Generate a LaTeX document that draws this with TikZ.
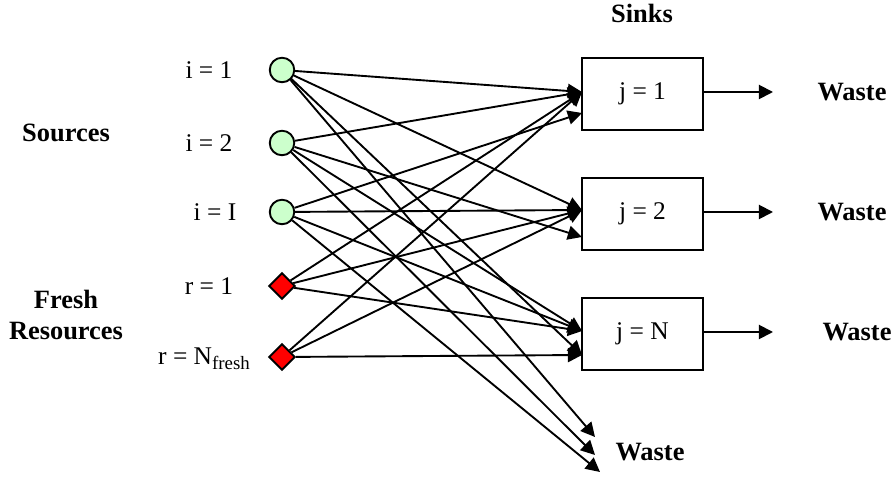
\documentclass[tikz,border=0pt]{standalone}
\usepackage{fontspec}
\setmainfont{Liberation Serif}
\usetikzlibrary{arrows.meta,shapes.geometric}
\tikzset{
  src/.style={circle,draw,line width=1pt,fill=green!20,minimum size=13pt,inner sep=0pt},
  fresh/.style={diamond,draw,line width=1pt,fill=red,minimum size=14pt,inner sep=0pt},
  sink/.style={rectangle,draw,line width=1pt,minimum width=64pt,minimum height=38pt,font=\fontsize{13.5}{15}\selectfont},
  lbl/.style={font=\fontsize{13.5}{15}\selectfont},
  blbl/.style={font=\fontsize{14}{16}\selectfont\bfseries,align=center},
  flow/.style={line width=1pt,-{Triangle[length=7.5pt,width=7.5pt]}},
}
\begin{document}
\begin{tikzpicture}[x=0.53pt,y=-0.53pt]
\useasboundingbox (0,0) rectangle (893,477);
% sources
\node[src] (s1) at (282,70) {};
\node[src] (s2) at (282,143) {};
\node[src] (s3) at (282,212) {};
\node[fresh] (f1) at (282,286) {};
\node[fresh] (f2) at (282,357) {};
% labels
\node[lbl] (l1) at (209,70) {i = 1};
\node[lbl] (l2) at (209,143) {i = 2};
\node[lbl] (l3) at (215,212) {i = I};
\node[lbl] (l4) at (209,286) {r = 1};
\node[lbl] (l5) at (204,359) {r = N\raisebox{-0.4ex}{\fontsize{10}{10}\selectfont fresh}};
\node[blbl] (src) at (66,133) {Sources};
\node[blbl] (frs) at (66,315) {Fresh\\Resources};
\node[blbl] (snk) at (642,13) {Sinks};
% sinks
\node[sink] (b1) at (642.5,94) {j = 1\vphantom{N}};
\node[sink] (b2) at (642.5,214) {j = 2\vphantom{N}};
\node[sink] (b3) at (642.5,334) {j = N};
\node[blbl] (w1) at (852,92) {Waste};
\node[blbl] (w2) at (852,212) {Waste};
\node[blbl] (w3) at (857,332) {Waste};
\node[blbl] (w0) at (650,452) {Waste};
% tip points
\coordinate (t1a) at (582,92);
\coordinate (t1b) at (582,113);
\coordinate (t2a) at (582,210);
\coordinate (t2b) at (582,237);
\coordinate (t3a) at (582,331);
\coordinate (t3b) at (582,355);
\coordinate (wa) at (595,437);
\coordinate (wb) at (595,455);
\coordinate (wc) at (600,472);
\coordinate (e1) at (773,92);
\coordinate (e2) at (773,212);
\coordinate (e3) at (773,332);
% flows
\draw[flow] (s1) -- (t1a);
\draw[flow] (s2) -- (t1a);
\draw[flow] (s3) -- (t1b);
\draw[flow] (f1) -- (t1a);
\draw[flow] (f2) -- (t1a);
\draw[flow] (s1) -- (t2a);
\draw[flow] (s2) -- (t2b);
\draw[flow] (s3) -- (t2a);
\draw[flow] (f1) -- (t2a);
\draw[flow] (f2) -- (t2a);
\draw[flow] (s1) -- (t3b);
\draw[flow] (s2) -- (t3a);
\draw[flow] (s3) -- (t3a);
\draw[flow] (f1) -- (t3a);
\draw[flow] (f2) -- (t3b);
\draw[flow] (s1) -- (wa);
\draw[flow] (s2) -- (wb);
\draw[flow] (s3) -- (wc);
\draw[flow] (b1.east |- e1) -- (e1);
\draw[flow] (b2.east |- e2) -- (e2);
\draw[flow] (b3.east |- e3) -- (e3);
\end{tikzpicture}
\end{document}
